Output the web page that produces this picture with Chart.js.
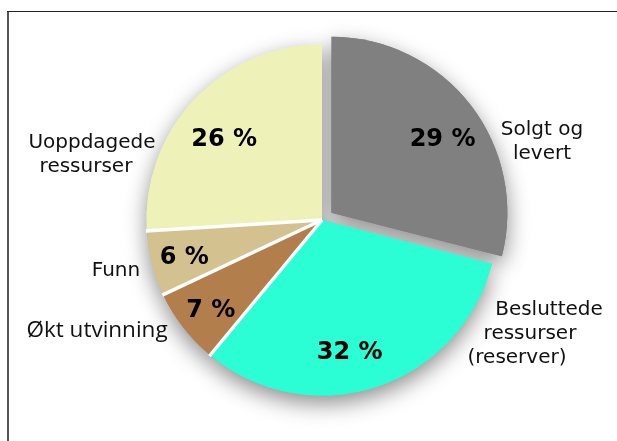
<!DOCTYPE html>
<html>
<head>
<meta charset="utf-8">
<script src="https://cdn.jsdelivr.net/npm/chart.js@4/dist/chart.umd.min.js"></script>
<style>
  html, body { margin: 0; padding: 0; background: #fff; }
</style>
</head>
<body>
<canvas id="pie" width="617" height="441"></canvas>
<script>
// slices, clockwise from 12 o'clock
const categories = ["Solgt og levert", "Besluttede ressurser (reserver)", "Økt utvinning", "Funn", "Uoppdagede ressurser"];
const nameLines = [["Solgt og", "levert"], ["Besluttede", "ressurser", "(reserver)"], ["Økt utvinning"], ["Funn"], ["Uoppdagede", "ressurser"]];
const shares = [29, 32, 7, 6, 26];
const sliceColors = ["#808080", "#2bfed4", "#b27e4c", "#d3c290", "#eef2b8"];

// label layout (relative to the pie centre)
const pctRadius = [0.765, 0.76, 0.81, 0.81, 0.73];
const pctTurn = [3.3, 6, -0.7, 0, -3];
const nameOffsets = [[220, -85], [211, 95], [-225, 117], [-206, 56], [-233, -72]];
const lineIndents = [[0, 0], [16, -3, -16], [0], [0], [3, -3]];
const nameFonts = ["20px 'DejaVu Sans'", "20px 'DejaVu Sans'", "22.5px 'Open Sans'", "20px 'DejaVu Sans'", "20px 'DejaVu Sans'"];

const frame = {
  id: "frame",
  beforeDraw(chart) {
    const ctx = chart.ctx;
    ctx.save();
    ctx.fillStyle = "#555";
    ctx.fillRect(7, 11, 2, 430);
    ctx.fillStyle = "#222";
    ctx.fillRect(7, 11, 610, 1);
    ctx.restore();
  }
};

// soft drop shadow under the whole pie
const pieShadow = {
  id: "pieShadow",
  beforeDatasetsDraw(chart) {
    const ctx = chart.ctx;
    ctx.save();
    ctx.shadowColor = "rgba(0,0,0,0.45)";
    ctx.shadowBlur = 22;
    ctx.shadowOffsetY = 8;
    chart.getDatasetMeta(0).data.forEach(arc => arc.draw(ctx));
    ctx.restore();
  }
};

// white radial separators between the joined slices (no outline on the rim)
const separators = {
  id: "separators",
  afterDatasetsDraw(chart) {
    const ctx = chart.ctx;
    const arcs = chart.getDatasetMeta(0).data;
    ctx.save();
    ctx.strokeStyle = "#fff";
    ctx.lineWidth = 3.5;
    ctx.lineCap = "butt";
    arcs.forEach((arc, i) => {
      // the exploded slice already stands apart
      if (i <= 1) return;
      const a = arc.startAngle;
      ctx.beginPath();
      ctx.moveTo(arc.x, arc.y);
      ctx.lineTo(arc.x + Math.cos(a) * (arc.outerRadius + 1), arc.y + Math.sin(a) * (arc.outerRadius + 1));
      ctx.stroke();
    });
    ctx.restore();
  }
};

const sliceLabels = {
  id: "sliceLabels",
  afterDatasetsDraw(chart) {
    const ctx = chart.ctx;
    const arcs = chart.getDatasetMeta(0).data;
    ctx.save();
    ctx.textAlign = "center";
    ctx.textBaseline = "alphabetic";
    arcs.forEach((arc, i) => {
      const mid = (arc.startAngle + arc.endAngle) / 2 + pctTurn[i] * Math.PI / 180;
      const shift = (arc.options.offset || 0) / 4;
      const d = arc.outerRadius * pctRadius[i] + shift;
      const x = arc.x + Math.cos(mid) * d;
      const y = arc.y + Math.sin(mid) * d;
      ctx.fillStyle = "#000";
      ctx.font = "bold 24px 'DejaVu Sans'";
      ctx.fillText(shares[i] + " %", x, y + 8.5);

      ctx.font = nameFonts[i];
      ctx.fillStyle = "#111";
      nameLines[i].forEach((line, j) => {
        ctx.fillText(line, arc.x + nameOffsets[i][0] + lineIndents[i][j], arc.y + nameOffsets[i][1] + j * 24);
      });
    });
    ctx.restore();
  }
};

new Chart(document.getElementById("pie"), {
  type: "pie",
  data: {
    labels: categories,
    datasets: [{
      data: shares,
      backgroundColor: sliceColors,
      borderWidth: 0,
      offset: [48, 0, 0, 0, 0],
      radius: 175.5
    }]
  },
  options: {
    responsive: false,
    animation: false,
    radius: 175.5,
    layout: { padding: { left: 27, right: 0, top: 0, bottom: 1 } },
    plugins: {
      legend: { display: false },
      tooltip: { enabled: false }
    }
  },
  plugins: [frame, pieShadow, separators, sliceLabels]
});
</script>
</body>
</html>
